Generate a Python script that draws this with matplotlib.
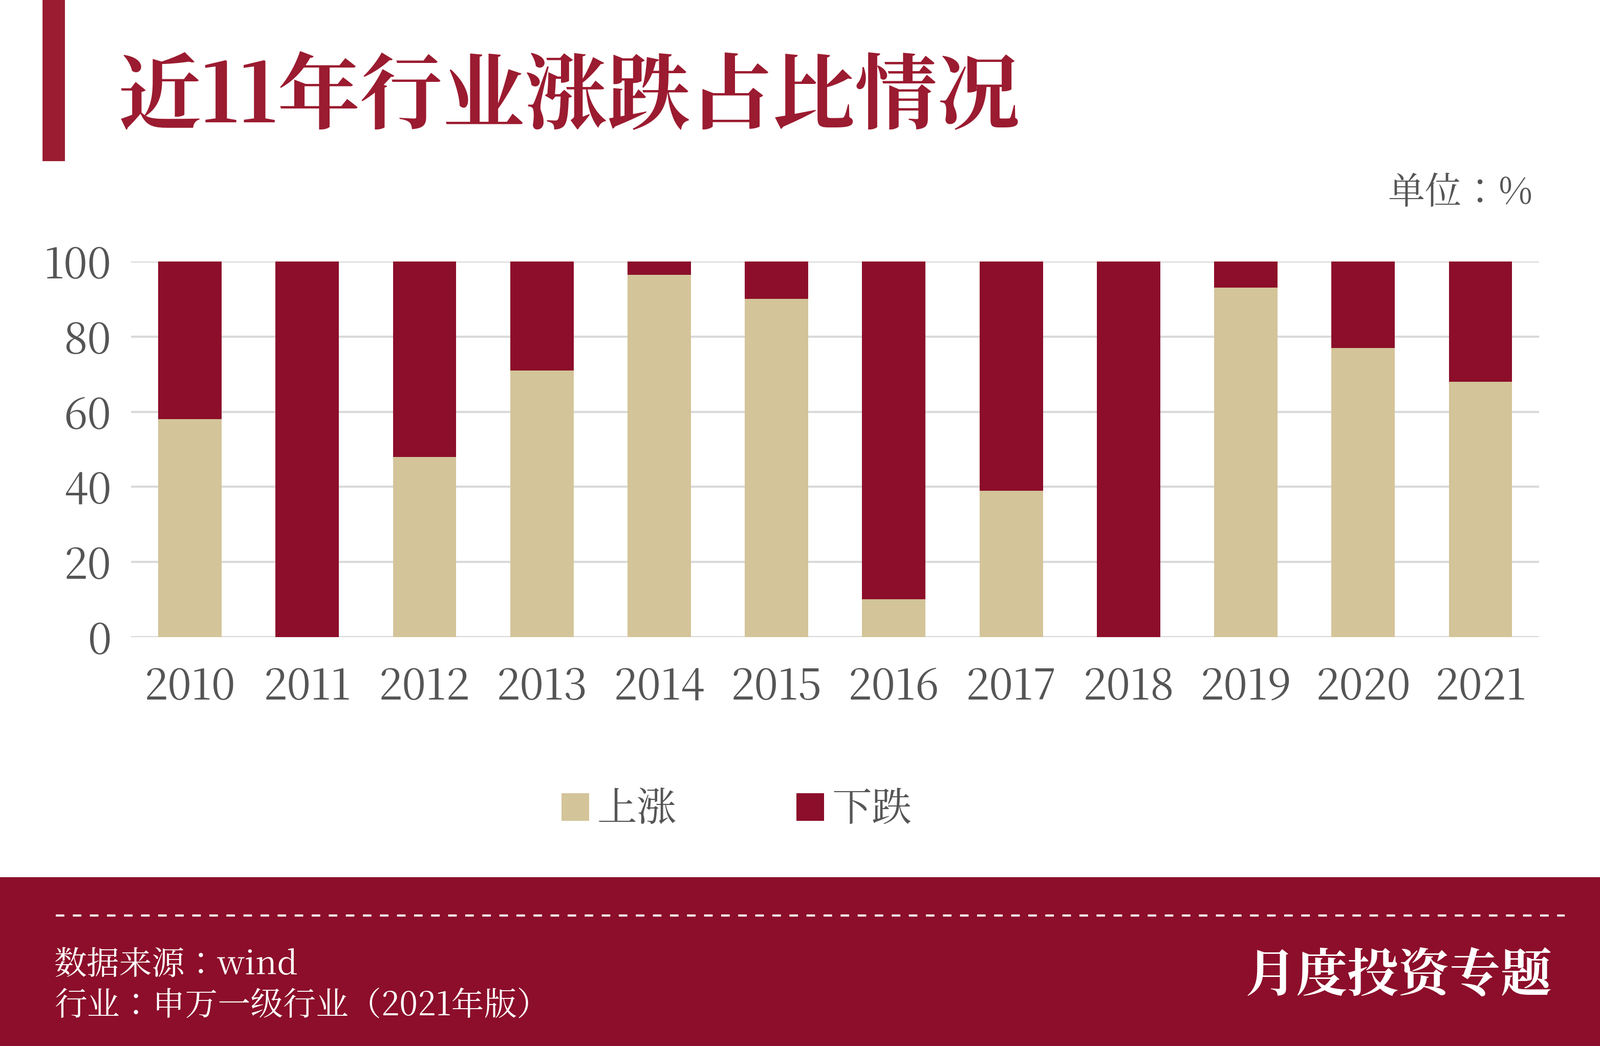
import matplotlib.pyplot as plt
from matplotlib import font_manager
from matplotlib.patches import Rectangle
from matplotlib.lines import Line2D

# pick whatever CJK family is registered
cjk = [f.name for f in font_manager.fontManager.ttflist if 'CJK' in f.name]
pref = [n for n in cjk if n.endswith('SC')] or cjk
plt.rcParams['font.family'] = ([pref[0]] if pref else []) + ['DejaVu Sans']

years = ['2010', '2011', '2012', '2013', '2014', '2015', '2016', '2017', '2018', '2019', '2020', '2021']
up = [58, 0, 48, 71, 96.5, 90, 10, 39, 0, 93, 77, 68]
down = [100 - v for v in up]
yticks = [0, 20, 40, 60, 80, 100]

tan = '#d3c499'
red = '#8c0e2a'
grey = '#555555'

fig = plt.figure(figsize=(15.63, 10.22), dpi=200)
fig.patch.set_facecolor('white')

# header
fig.add_artist(Rectangle((0.027, 0.847), 0.013, 0.153, transform=fig.transFigure, color='#9b1b30'))
fig.text(0.074, 0.905, '近11年行业涨跌占比情况', fontsize=58, fontweight='bold', color='#9b1b30', va='center')
fig.text(0.958, 0.815, '单位：%', fontsize=26, color=grey, ha='right', va='center')

ax = fig.add_axes([0.082, 0.391, 0.880, 0.359])
x = range(len(years))
ax.bar(x, up, width=0.54, color=tan, label='上涨', zorder=3)
ax.bar(x, down, width=0.54, bottom=up, color=red, label='下跌', zorder=3)
ax.set_xlim(-0.5, len(years) - 0.5)
ax.set_ylim(0, 100)
ax.set_yticks(yticks)
ax.set_xticks(list(x))
ax.set_xticklabels(years)
ax.grid(axis='y', color='#d9d9d9', lw=1.5, zorder=0)
for s in ax.spines.values():
    s.set_visible(False)
ax.tick_params(length=0, labelsize=30, colors=grey)
ax.tick_params(axis='x', pad=20)
ax.tick_params(axis='y', pad=14)
ax.legend(loc='upper center', bbox_to_anchor=(0.43, -0.31), ncol=2, frameon=False,
          fontsize=28, handlelength=0.7, handleheight=0.7, columnspacing=3, handletextpad=0.2,
          labelcolor=grey)

# footer band
fig.add_artist(Rectangle((0, 0), 1, 0.161, transform=fig.transFigure, color=red))
fig.add_artist(Line2D([0.035, 0.978], [0.125, 0.125], transform=fig.transFigure,
                      color='white', lw=1.5, ls=(0, (4, 4))))
fig.text(0.034, 0.077, '数据来源：wind', fontsize=23, color='white', va='center')
fig.text(0.034, 0.038, '行业：申万一级行业（2021年版）', fontsize=23, color='white', va='center')
fig.text(0.970, 0.066, '月度投资专题', fontsize=36, fontweight='bold', color='white', ha='right', va='center')

fig.savefig('out.png', dpi=200)
